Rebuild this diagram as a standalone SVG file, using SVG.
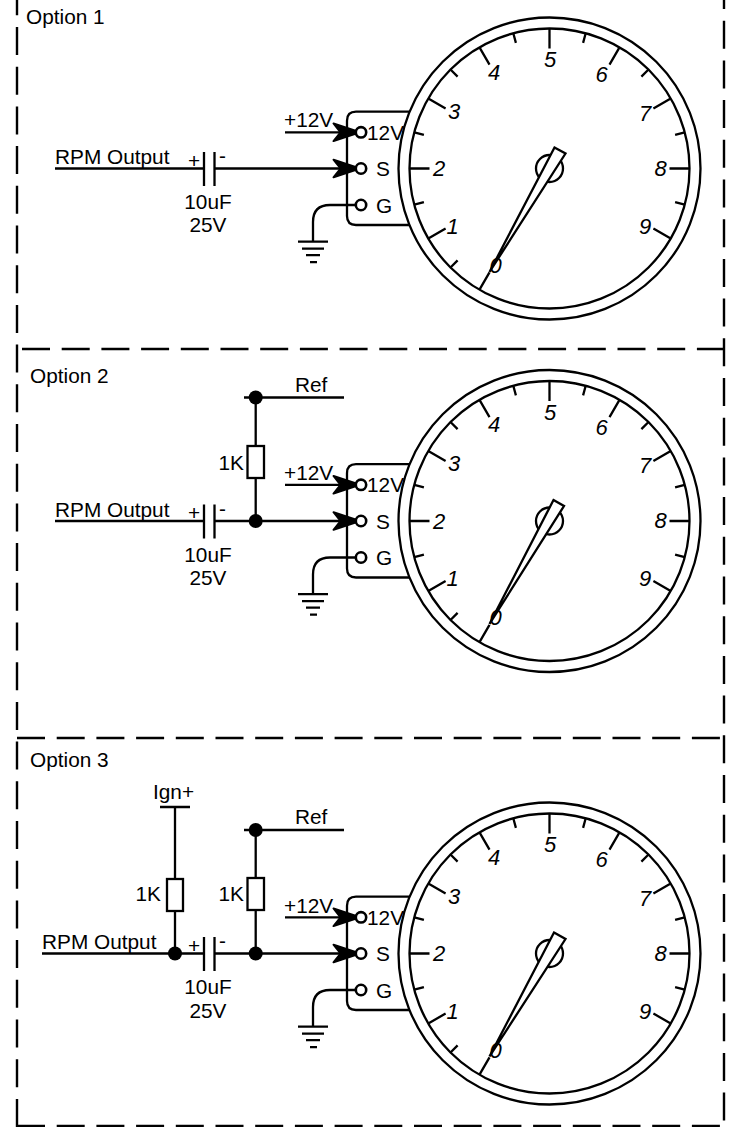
<svg xmlns="http://www.w3.org/2000/svg" width="733" height="1127" viewBox="0 0 733 1127">
<style>
text{font-family:"Liberation Sans",Arial,sans-serif;font-size:20.8px;fill:#000}
text.n{font-style:italic;text-anchor:middle;font-size:22px}
.m{text-anchor:middle}
.e{text-anchor:end}
.l{fill:none;stroke:#000;stroke-width:2.3}
.f{fill:#fff;stroke:#000;stroke-width:2.3}
.t{fill:#fff;stroke:#000;stroke-width:2.6}
.d{fill:none;stroke:#000;stroke-width:2.4;stroke-dasharray:28 11.7}
.a{fill:#000;stroke:#000;stroke-width:2;stroke-linejoin:round}
.dot{fill:#000}
</style>
<defs>
<path id="ticks" class="l" d="M-70 121.2L-60 103.9M-121.2 70L-103.9 60M-140 0H-120M-121.2 -70L-103.9 -60M-70 -121.2L-60 -103.9M0 -140V-120M70 -121.2L60 -103.9M121.2 -70L103.9 -60M140 0H120M121.2 70L103.9 60M-99 99L-91.9 91.9M-135.2 36.2L-125.6 33.6M-135.2 -36.2L-125.6 -33.6M-99 -99L-91.9 -91.9M-36.2 -135.2L-33.6 -125.6M36.2 -135.2L33.6 -125.6M99 -99L91.9 -91.9M135.2 -36.2L125.6 -33.6M135.2 36.2L125.6 33.6"/>
<path id="arrow" class="a" d="M0 0L-26.5 -8.8L-19.5 0L-26.5 8.8Z"/>
<path id="gnd" class="l" d="M-15 0H15M-11 7H11M-7 13.5H7M-3 20.5H4"/>
</defs>

<g id="frame">
<line class="d" x1="17" y1="-12.7" x2="17" y2="1127"/>
<line class="d" x1="724" y1="-19" x2="724" y2="1127"/>
<line class="d" x1="22" y1="349" x2="724" y2="349"/>
<line class="d" x1="17" y1="738" x2="724" y2="738"/>
<line class="d" x1="17" y1="1126" x2="724" y2="1126"/>
</g>

<g id="gauge1" transform="translate(549.5 168.5)">
<circle class="l" r="151"/><circle class="l" r="140"/>
<use href="#ticks"/>
<text class="n" x="0.5" y="-101.5">5</text><text class="n" x="-55.5" y="-89">4</text><text class="n" x="52" y="-86.5">6</text><text class="n" x="-95.5" y="-50">3</text><text class="n" x="95.5" y="-48">7</text><text class="n" x="-110.5" y="7.5">2</text><text class="n" x="111" y="7">8</text><text class="n" x="-97" y="65">1</text><text class="n" x="95.5" y="65">9</text><text class="n" x="-54" y="104">0</text>
<circle class="l" r="13.5"/>
<path class="f" d="M5 -21L16 -15L-60 103.5Z"/>
</g>
<g id="gauge2" transform="translate(549.5 521)">
<circle class="l" r="151"/><circle class="l" r="140"/>
<use href="#ticks"/>
<text class="n" x="0.5" y="-101.5">5</text><text class="n" x="-55.5" y="-89">4</text><text class="n" x="52" y="-86.5">6</text><text class="n" x="-95.5" y="-50">3</text><text class="n" x="95.5" y="-48">7</text><text class="n" x="-110.5" y="7.5">2</text><text class="n" x="111" y="7">8</text><text class="n" x="-97" y="65">1</text><text class="n" x="95.5" y="65">9</text><text class="n" x="-54" y="104">0</text>
<circle class="l" r="13.5"/>
<path class="f" d="M4 -21L14.5 -15L-60 103Z"/>
</g>
<g id="gauge3" transform="translate(549.5 953.5)">
<circle class="l" r="151"/><circle class="l" r="140"/>
<use href="#ticks"/>
<text class="n" x="0.5" y="-101.5">5</text><text class="n" x="-55.5" y="-89">4</text><text class="n" x="52" y="-86.5">6</text><text class="n" x="-95.5" y="-50">3</text><text class="n" x="95.5" y="-48">7</text><text class="n" x="-110.5" y="7.5">2</text><text class="n" x="111" y="7">8</text><text class="n" x="-97" y="65">1</text><text class="n" x="95.5" y="65">9</text><text class="n" x="-54" y="104">0</text>
<circle class="l" r="13.5"/>
<path class="f" d="M4.5 -21L16 -14.5L-60 103Z"/>
</g>

<g id="connectors">
<g id="wires1">
<path class="l" d="M285 132.3H352M55 168.5H204M214.5 168.5H352M355 205H330Q313 205 313 222V241.7"/>
<path class="l" d="M204 152V186M214.5 152V186"/>
<use href="#arrow" x="360" y="132.3"/><use href="#arrow" x="360" y="168.5"/>
<use href="#gnd" x="313" y="241.7"/>
</g>
<g id="wires2" transform="translate(0 352.5)">
<path class="l" d="M285 132.3H352M55 168.5H204M214.5 168.5H352M355 205H330Q313 205 313 222V241.7"/>
<path class="l" d="M204 152V186M214.5 152V186"/>
<path class="l" d="M244 45H344M255.7 45V93M255.7 125V168.5"/>
<circle class="dot" cx="255.7" cy="45" r="7"/><circle class="dot" cx="255.7" cy="168.5" r="7"/>
<use href="#arrow" x="360" y="132.3"/><use href="#arrow" x="360" y="168.5"/>
<use href="#gnd" x="313" y="241.7"/>
</g>
<g id="wires3" transform="translate(0 785)">
<path class="l" d="M285 132.3H352M42 168.5H204M214.5 168.5H352M355 205H330Q313 205 313 222V241.7"/>
<path class="l" d="M204 152V186M214.5 152V186"/>
<path class="l" d="M244 45H344M255.7 45V93M255.7 125V168.5M160 22H190M175 22V94M175 125V168.5"/>
<circle class="dot" cx="255.7" cy="45" r="7"/><circle class="dot" cx="255.7" cy="168.5" r="7"/><circle class="dot" cx="175" cy="168.5" r="7"/>
<use href="#arrow" x="360" y="132.3"/><use href="#arrow" x="360" y="168.5"/>
<use href="#gnd" x="313" y="241.7"/>
</g>
</g>

<g id="option1">
<text x="26" y="24">Option 1</text>
<text x="55" y="164">RPM Output</text>
<text x="188" y="168">+</text><text x="219" y="162.5">-</text>
<text class="m" x="208" y="209">10uF</text><text class="m" x="208" y="232">25V</text>
<text x="284" y="127">+12V</text>
</g>
<g id="connector1">
<path class="l" d="M409 111.7H356Q347 111.7 347 120.7V216Q347 225 356 225H409"/>
<circle class="t" cx="361" cy="132.3" r="5.2"/><circle class="t" cx="361" cy="168.5" r="5.2"/><circle class="t" cx="361" cy="205" r="5.2"/>
<text x="367" y="139.5">12V</text><text x="376" y="176">S</text><text x="376" y="212.5">G</text>
</g>

<g id="option2">
<text x="30" y="383">Option 2</text>
<text x="295" y="392">Ref</text>
<rect class="f" x="247.5" y="446" width="16.5" height="32"/>
<text class="e" x="244" y="470">1K</text>
<text x="55" y="517">RPM Output</text>
<text x="188" y="520">+</text><text x="219" y="516">-</text>
<text class="m" x="208" y="562">10uF</text><text class="m" x="208" y="585">25V</text>
<text x="284" y="480">+12V</text>
</g>
<g id="connector2" transform="translate(0 352.5)">
<path class="l" d="M409 111.7H356Q347 111.7 347 120.7V216Q347 225 356 225H409"/>
<circle class="t" cx="361" cy="132.3" r="5.2"/><circle class="t" cx="361" cy="168.5" r="5.2"/><circle class="t" cx="361" cy="205" r="5.2"/>
<text x="367" y="139.5">12V</text><text x="376" y="176">S</text><text x="376" y="212.5">G</text>
</g>

<g id="option3">
<text x="30" y="766.5">Option 3</text>
<text class="m" x="173.5" y="799">Ign+</text>
<text x="295" y="823.5">Ref</text>
<rect class="f" x="167" y="879" width="16" height="32"/>
<rect class="f" x="247.5" y="878" width="16.5" height="32"/>
<text class="e" x="161" y="901">1K</text><text class="e" x="244" y="901">1K</text>
<text x="42" y="948.5">RPM Output</text>
<text x="188" y="953">+</text><text x="219" y="947.5">-</text>
<text class="m" x="208" y="994">10uF</text><text class="m" x="208" y="1018">25V</text>
<text x="284" y="912.5">+12V</text>
</g>
<g id="connector3" transform="translate(0 785)">
<path class="l" d="M409 111.7H356Q347 111.7 347 120.7V216Q347 225 356 225H409"/>
<circle class="t" cx="361" cy="132.3" r="5.2"/><circle class="t" cx="361" cy="168.5" r="5.2"/><circle class="t" cx="361" cy="205" r="5.2"/>
<text x="367" y="139.5">12V</text><text x="376" y="176">S</text><text x="376" y="212.5">G</text>
</g>
</svg>
